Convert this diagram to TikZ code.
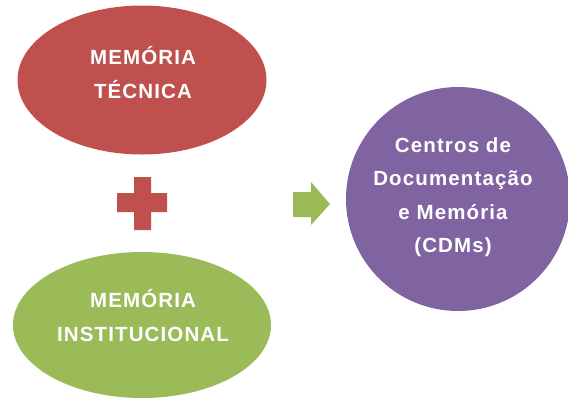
\documentclass[tikz,border=0pt]{standalone}
\usepackage{fontspec}
\usetikzlibrary{shapes.geometric}
\newfontfamily\lblfont{Liberation Sans}[LetterSpace=5.5]
\definecolor{memred}{HTML}{C0504D}
\definecolor{memgreen}{HTML}{9BBB59}
\definecolor{cdmpurple}{HTML}{8064A2}
\begin{document}
\begin{tikzpicture}[x=1pt,y=-1pt,
  blob/.style={ellipse, inner sep=0pt, draw=none},
  lbl/.style={text=white, align=center, anchor=base, inner sep=0pt,
    font=\lblfont\bfseries\fontsize{20.5}{34}\selectfont},
  cdmlbl/.style={lbl, font=\lblfont\bfseries\fontsize{20.5}{33.3}\selectfont}]
\useasboundingbox (0,0) rectangle (568,400);
% two kinds of memory
\node[blob, fill=memred, minimum width=249pt, minimum height=149pt] (tec) at (142,80) {};
\node[lbl] (tectxt) at (143,98.5) {MEMÓRIA\\TÉCNICA};
\node[blob, fill=memgreen, minimum width=258pt, minimum height=146pt] (inst) at (142,325) {};
\node[lbl] (insttxt) at (143,341.5) {MEMÓRIA\\INSTITUCIONAL};
% plus sign between them
\fill[memred] (134,177) -- (151,177) -- (151,193) -- (167,193) -- (167,212) -- (151,212)
  -- (151,230) -- (134,230) -- (134,212) -- (117,212) -- (117,193) -- (134,193) -- cycle;
% arrow towards the result
\fill[memgreen] (293,192) -- (311,192) -- (311,182) -- (330,204) -- (311,225) -- (311,217)
  -- (293,217) -- cycle;
% result circle
\node[circle, fill=cdmpurple, inner sep=0pt, minimum size=224pt] (cdm) at (458,199) {};
\node[cdmlbl] (cdmtxt) at (453,252.5) {Centros de\\Documentação\\e Memória\\(CDMs)};
\end{tikzpicture}
\end{document}
